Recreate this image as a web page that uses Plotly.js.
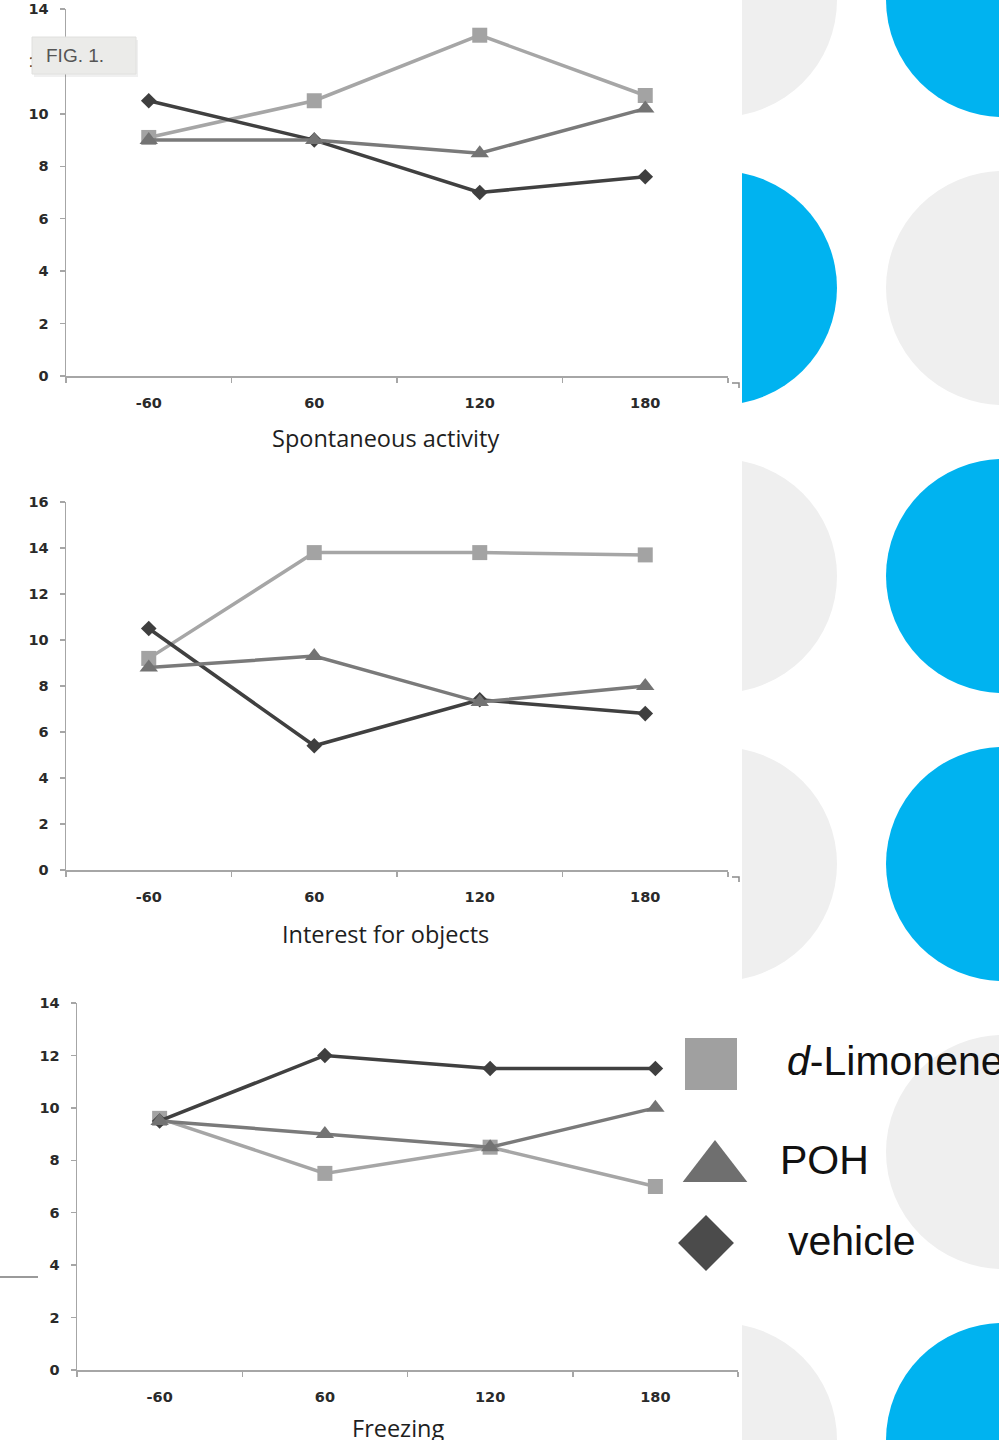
<!DOCTYPE html>
<html><head><meta charset="utf-8">
<script src="https://cdn.plot.ly/plotly-3.0.1.min.js"></script>
<style>html,body{margin:0;padding:0;background:#fff}#chart{width:999px;height:1440px}</style>
</head><body><div id="chart"></div>
<script>
// ---- data ----
const timePoints = ['-60', '60', '120', '180'];
const seriesNames = ['d-Limonene', 'POH', 'vehicle'];
const panelTitles = ['Spontaneous activity', 'Interest for objects', 'Freezing'];
const spontLimonene = [9.1, 10.5, 13.0, 10.7];
const spontPOH = [9.0, 9.0, 8.5, 10.2];
const spontVehicle = [10.5, 9.0, 7.0, 7.6];
const interestLimonene = [9.2, 13.8, 13.8, 13.7];
const interestPOH = [8.8, 9.3, 7.3, 8.0];
const interestVehicle = [10.5, 5.4, 7.4, 6.8];
const freezeLimonene = [9.6, 7.5, 8.5, 7.0];
const freezePOH = [9.5, 9.0, 8.5, 10.0];
const freezeVehicle = [9.5, 12.0, 11.5, 11.5];
const yMaxima = [14, 16, 14];

// ---- layout helpers ----
const W = 999, H = 1440;
const px = v => v / W;
const py = v => 1 - v / H;

const panels = [
  {lim: spontLimonene, poh: spontPOH, veh: spontVehicle, x0: 66, x1: 728, yb: 376, yt: 9, tx: 385, ty: 438},
  {lim: interestLimonene, poh: interestPOH, veh: interestVehicle, x0: 66, x1: 728, yb: 870, yt: 502, tx: 385, ty: 934},
  {lim: freezeLimonene, poh: freezePOH, veh: freezeVehicle, x0: 77, x1: 738, yb: 1370, yt: 1003, tx: 398, ty: 1428}
];
const styles = {
  lim: {color: '#a6a6a6', mcolor: '#a3a3a3', symbol: 'square', size: 15, leg: 52},
  poh: {color: '#7a7a7a', mcolor: '#737373', symbol: 'triangle-up', size: 16, leg: 56},
  veh: {color: '#404040', mcolor: '#3f3f3f', symbol: 'diamond', size: 12, leg: 43}
};
const keyOrder = ['lim', 'veh', 'poh'];
const nameOf = {lim: seriesNames[0], poh: seriesNames[1], veh: seriesNames[2]};

const traces = [];
const layout = {
  width: W, height: H, margin: {l: 0, r: 0, t: 0, b: 0},
  paper_bgcolor: '#ffffff', plot_bgcolor: 'rgba(0,0,0,0)',
  showlegend: false, annotations: [], shapes: []
};
const axisColor = '#a6a6a6';
const tickFont = {family: 'DejaVu Sans', size: 14.5, color: '#2a2a2a', weight: 'bold'};

panels.forEach((p, i) => {
  const n = i + 1;
  const xa = 'x' + (n === 1 ? '' : n), ya = 'y' + (n === 1 ? '' : n);
  keyOrder.forEach(k => {
    const s = styles[k];
    traces.push({
      type: 'scatter', mode: 'lines+markers', name: nameOf[k],
      x: timePoints, y: p[k], xaxis: xa, yaxis: ya, cliponaxis: false,
      line: {color: s.color, width: 3.5},
      marker: {symbol: s.symbol, size: s.size, color: s.mcolor}
    });
  });
  layout['xaxis' + (n === 1 ? '' : n)] = {
    domain: [px(p.x0), px(p.x1)], anchor: ya, type: 'category',
    categoryorder: 'array', categoryarray: timePoints, range: [-0.5, 3.5],
    showline: true, linecolor: axisColor, linewidth: 1.5,
    ticks: 'outside', tickson: 'boundaries', ticklen: 5, tickcolor: axisColor, tickwidth: 1.5,
    tickfont: tickFont, ticklabelstandoff: 13, showgrid: false, zeroline: false, fixedrange: true
  };
  layout['yaxis' + (n === 1 ? '' : n)] = {
    domain: [py(p.yb), py(p.yt)], anchor: xa, range: [0, yMaxima[i]], dtick: 2,
    showline: true, linecolor: axisColor, linewidth: 1.5,
    ticks: 'outside', ticklen: 5, tickcolor: axisColor, tickwidth: 1.5,
    tickfont: tickFont, ticklabelstandoff: 8, showgrid: false, zeroline: false, fixedrange: true
  };
  layout.annotations.push({
    xref: 'paper', yref: 'paper', x: px(p.tx), y: py(p.ty), xanchor: 'center', yanchor: 'middle',
    text: panelTitles[i], showarrow: false,
    font: {family: 'Open Sans', size: 23.5, color: '#1e1e1e'}
  });
});

// legend on a hidden pixel-scaled axis
layout.xaxis4 = {domain: [0, 1], range: [0, W], visible: false, fixedrange: true, anchor: 'y4'};
layout.yaxis4 = {domain: [0, 1], range: [H, 0], visible: false, fixedrange: true, anchor: 'x4'};
const legendPos = {lim: [711, 1064], poh: [715, 1168], veh: [706, 1243]};
const legendColors = {lim: '#a0a0a0', poh: '#6f6f6f', veh: '#4b4b4b'};
const legendText = {lim: '<i>d</i>-Limonene', poh: 'POH', veh: 'vehicle'};
const legendTextX = {lim: 785, poh: 778, veh: 786};
const legendTextY = {lim: 1061, poh: 1160, veh: 1241};
['lim', 'poh', 'veh'].forEach(k => {
  traces.push({
    type: 'scatter', mode: 'markers', x: [legendPos[k][0]], y: [legendPos[k][1]],
    xaxis: 'x4', yaxis: 'y4', cliponaxis: false, hoverinfo: 'skip', name: nameOf[k],
    marker: {symbol: styles[k].symbol, size: styles[k].leg, color: legendColors[k]}
  });
  layout.annotations.push({
    xref: 'paper', yref: 'paper', x: px(legendTextX[k]), y: py(legendTextY[k]),
    xanchor: 'left', yanchor: 'middle', text: legendText[k], showarrow: false,
    font: {family: 'Liberation Sans', size: 41, color: '#111111'}
  });
});

// decorative background circles
const R = 117;
const circles = [
  [720, 0, '#efefef'], [1003, 0, '#00b3f0'],
  [720, 288, '#00b3f0'], [1003, 288, '#efefef'],
  [720, 576, '#efefef'], [1003, 576, '#00b3f0'],
  [720, 864, '#efefef'], [1003, 864, '#00b3f0'],
  [1003, 1152, '#efefef'],
  [720, 1440, '#efefef'], [1003, 1440, '#00b3f0']
];
circles.forEach(c => {
  layout.shapes.push({
    type: 'circle', xref: 'paper', yref: 'paper', layer: 'below',
    x0: px(c[0] - R), x1: px(c[0] + R), y0: py(c[1] + R), y1: py(c[1] - R),
    fillcolor: c[2], line: {width: 0}
  });
});
layout.shapes.push({
  type: 'rect', xref: 'paper', yref: 'paper', layer: 'below',
  x0: 0, x1: px(742), y0: 0, y1: 1, fillcolor: '#ffffff', line: {width: 0}
});
layout.shapes.push({
  type: 'line', xref: 'paper', yref: 'paper', layer: 'below',
  x0: 0, x1: px(38), y0: py(1277), y1: py(1277), line: {color: '#9a9a9a', width: 2}
});
// small end marks of the upper x axes
[383, 877].forEach(yy => {
  layout.shapes.push({
    type: 'path', xref: 'paper', yref: 'paper', layer: 'below',
    path: 'M' + px(732) + ',' + py(yy) + ' L' + px(739) + ',' + py(yy) + ' L' + px(739) + ',' + py(yy + 5),
    line: {color: '#8a8a8a', width: 1.5}
  });
});
// FIG. 1. tag with soft shadow
layout.shapes.push({
  type: 'rect', xref: 'paper', yref: 'paper', layer: 'above',
  x0: px(34), x1: px(138), y0: py(77), y1: py(40), fillcolor: 'rgba(0,0,0,0.06)', line: {width: 0}
});
layout.shapes.push({
  type: 'rect', xref: 'paper', yref: 'paper', layer: 'above',
  x0: px(32), x1: px(136), y0: py(74), y1: py(37), fillcolor: '#ebebe9', line: {color: '#e0e0de', width: 1}
});
layout.annotations.push({
  xref: 'paper', yref: 'paper', x: px(44), y: py(56), xanchor: 'left', yanchor: 'middle',
  text: 'FIG. 1.', showarrow: false,
  font: {family: 'Liberation Sans', size: 19, color: '#555555'}
});

Plotly.newPlot('chart', traces, layout, {displayModeBar: false, staticPlot: true});
</script>
</body></html>
